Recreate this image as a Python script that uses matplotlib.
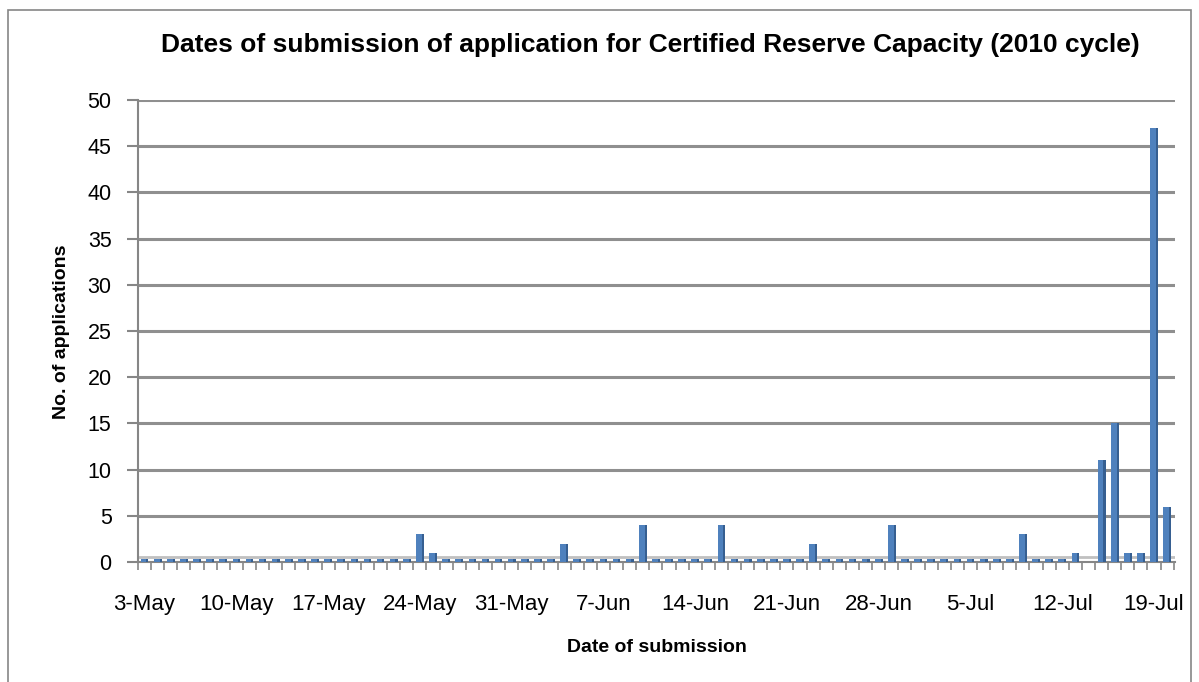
import numpy as np
import pandas as pd
import matplotlib
matplotlib.use("Agg")
import matplotlib.pyplot as plt
from matplotlib.patches import Rectangle

# daily counts, 3-May-2010 .. 20-Jul-2010 (nan = no entry)
start_date = "2010-05-03"
counts = [
    0, 0, 0, 0, 0, 0, 0,          # 3-May
    0, 0, 0, 0, 0, 0, 0,          # 10-May
    0, 0, 0, 0, 0, 0, 0,          # 17-May
    3, 1, 0, 0, 0, 0, 0,          # 24-May
    0, 0, 0, 0, 2, 0, 0,          # 31-May
    0, 0, 0, 4, 0, 0, 0,          # 7-Jun
    0, 0, 4, 0, 0, 0, 0,          # 14-Jun
    0, 0, 2, 0, 0, 0, 0,          # 21-Jun
    0, 4, 0, 0, 0, 0, 0,          # 28-Jun
    0, 0, 0, 0, 3, 0, 0,          # 5-Jul
    0, 1, np.nan, 11, 15, 1, 1,   # 12-Jul
    47, 6,                        # 19-Jul
]
title = "Dates of submission of application for Certified Reserve Capacity (2010 cycle)"
x_title = "Date of submission"
y_title = "No. of applications"

dates = pd.date_range(start_date, periods=len(counts), freq="D")
labels = [f"{d.day}-{d.strftime('%b')}" for d in dates]
vals = np.array(counts, dtype=float)
pos = np.arange(len(vals))

plt.rcParams["font.family"] = ["Liberation Sans", "DejaVu Sans"]

fig = plt.figure(figsize=(11.99, 6.82), dpi=100)
ax = fig.add_axes([138 / 1199, 1 - 562 / 682, (1175 - 138) / 1199, 462 / 682])

front = "#4F81BD"
side = "#365F91"
grid_c = "#8F8F8F"

# gridlines
for y in range(5, 51, 5):
    ax.axhline(y, color=grid_c, lw=2.2, zorder=1)
# floor
ax.axhline(0.55, color="#C0C0C0", lw=2, zorder=1)

has = ~np.isnan(vals)
nz = has & (vals > 0)
zero = has & (vals == 0)

# real bars: front face + darker side
ax.bar(pos[nz] - 0.07, vals[nz], width=0.44, color=front, zorder=3, linewidth=0)
ax.bar(pos[nz] + 0.22, vals[nz], width=0.16, color=side, zorder=3, linewidth=0)
# zero stubs
stub = np.full(zero.sum(), 0.3)
ax.bar(pos[zero] - 0.07, stub, width=0.44, color=front, zorder=3, linewidth=0)
ax.bar(pos[zero] + 0.22, stub, width=0.16, color=side, zorder=3, linewidth=0)

ax.set_xlim(-0.4, 78.6)
ax.set_ylim(0, 50)
ax.set_yticks(range(0, 51, 5))
ax.tick_params(axis="y", length=8, color="#868686", width=1.5, pad=11, labelsize=15.5)

major = pos[::7]
ax.set_xticks(major)
ax.set_xticklabels([labels[i] for i in major])
ax.set_xticks(np.arange(-0.5, len(vals), 1), minor=True)
ax.tick_params(axis="x", which="major", length=0, pad=23, labelsize=16)
ax.tick_params(axis="x", which="minor", length=6, color="#868686", width=1.2)

for s in ["top", "right"]:
    ax.spines[s].set_visible(False)
for s in ["left", "bottom"]:
    ax.spines[s].set_color("#868686")
    ax.spines[s].set_linewidth(1.5)

fig.text(650 / 1199, 1 - 45 / 682, title, ha="center", va="center",
         fontsize=19, fontweight="bold")
fig.text(657 / 1199, 1 - 647 / 682, x_title, ha="center", va="center",
         fontsize=14, fontweight="bold")
fig.text(62 / 1199, 1 - 332 / 682, y_title, ha="center", va="center",
         fontsize=14, fontweight="bold", rotation=90)

# chart area border
fig.patches.append(Rectangle((8 / 1199, -0.05), (1191 - 8) / 1199, 1.05 - 10 / 682,
                             transform=fig.transFigure, fill=False,
                             edgecolor="#868686", lw=1.2))

fig.savefig("out.png", dpi=100)
